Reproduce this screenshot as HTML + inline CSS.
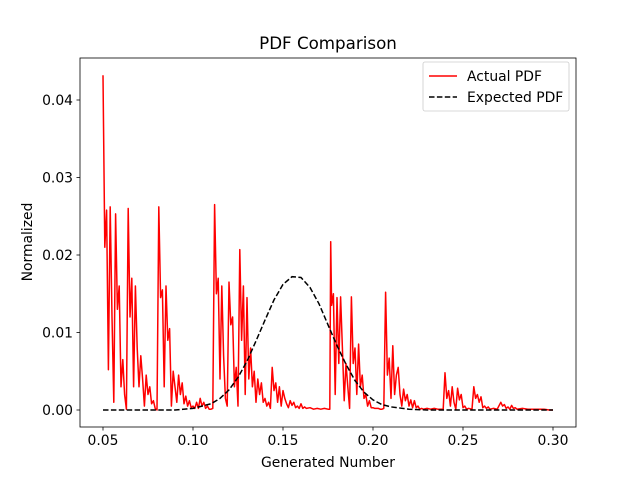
<!DOCTYPE html>
<html><head><meta charset="utf-8"><style>
html,body{margin:0;padding:0;background:#fff;}
svg{display:block;font-family:"DejaVu Sans","Liberation Sans",sans-serif;}
</style></head><body>
<svg id="chart" width="640" height="480" viewBox="0 0 640 480" xmlns="http://www.w3.org/2000/svg">
<rect width="640" height="480" fill="#fff"/>
<text x="328" y="49" font-size="16.7" text-anchor="middle">PDF Comparison</text>
<g id="plot"></g>
<rect x="80" y="58" width="496" height="369" fill="none" stroke="#000" stroke-width="0.8"/>
<g id="xt"></g><g id="yt"></g>
<text x="328" y="467" font-size="13.9" text-anchor="middle">Generated Number</text>
<text x="0" y="0" font-size="13.9" text-anchor="middle" transform="translate(32,242) rotate(-90)">Normalized</text>
<g>
<rect x="423" y="62" width="146" height="49" rx="2" fill="#fff" fill-opacity="0.8" stroke="#ccc" stroke-width="0.8"/>
<line x1="429" y1="76" x2="457" y2="76" stroke="#f00" stroke-width="1.5"/>
<text x="467" y="81" font-size="13.9">Actual PDF</text>
<line x1="429" y1="97" x2="457" y2="97" stroke="#000" stroke-width="1.5" stroke-dasharray="5.5,2.4"/>
<text x="467" y="102" font-size="13.9">Expected PDF</text>
</g>
</svg>
<script>
const xTicks=[0.05,0.10,0.15,0.20,0.25,0.30];
const xTickLabels=["0.05","0.10","0.15","0.20","0.25","0.30"];
const yTicks=[0,0.01,0.02,0.03,0.04];
const yTickLabels=["0.00","0.01","0.02","0.03","0.04"];
const actualX=[0.050,0.051,0.052,0.053,0.054,0.055,0.056,0.057,0.058,0.059,0.060,0.061,0.062,0.063,0.064,0.065,0.066,0.067,0.068,0.069,0.070,0.071,0.072,0.073,0.074,0.075,0.076,0.077,0.078,0.079,0.080,0.081,0.082,0.083,0.084,0.085,0.086,0.087,0.088,0.089,0.090,0.091,0.092,0.093,0.094,0.095,0.096,0.097,0.098,0.099,0.100,0.101,0.102,0.103,0.104,0.105,0.106,0.107,0.108,0.109,0.110,0.111,0.112,0.113,0.114,0.115,0.116,0.117,0.118,0.119,0.120,0.121,0.122,0.123,0.124,0.125,0.126,0.127,0.128,0.129,0.130,0.131,0.132,0.133,0.134,0.135,0.136,0.137,0.138,0.139,0.140,0.141,0.142,0.143,0.144,0.145,0.146,0.147,0.148,0.149,0.150,0.151,0.152,0.153,0.154,0.155,0.156,0.157,0.158,0.159,0.160,0.161,0.162,0.163,0.165,0.167,0.169,0.171,0.173,0.175,0.176,0.1765,0.177,0.178,0.179,0.180,0.181,0.182,0.183,0.184,0.185,0.186,0.187,0.188,0.189,0.190,0.191,0.192,0.193,0.194,0.195,0.196,0.197,0.198,0.199,0.200,0.201,0.202,0.203,0.204,0.205,0.206,0.207,0.208,0.209,0.210,0.211,0.212,0.213,0.214,0.215,0.216,0.217,0.218,0.219,0.220,0.221,0.222,0.223,0.224,0.225,0.226,0.227,0.228,0.230,0.232,0.234,0.236,0.238,0.239,0.240,0.241,0.242,0.243,0.244,0.245,0.246,0.247,0.248,0.249,0.250,0.251,0.252,0.253,0.255,0.256,0.257,0.258,0.259,0.260,0.261,0.262,0.263,0.264,0.265,0.267,0.269,0.271,0.272,0.273,0.274,0.275,0.276,0.277,0.278,0.279,0.280,0.283,0.286,0.289,0.292,0.295,0.298,0.300];
const actualY=[0.0432,0.021,0.0258,0.0052,0.0262,0.012,0.001,0.0253,0.013,0.016,0.003,0.0065,0.002,0.0001,0.026,0.012,0.017,0.003,0.016,0.008,0.003,0.007,0.004,0.0005,0.0045,0.002,0.003,0.0008,0.0012,0.0002,0.0,0.0262,0.0145,0.0155,0.003,0.016,0.009,0.0105,0.0005,0.005,0.003,0.001,0.0045,0.002,0.0035,0.0008,0.0018,0.0005,0.0012,0.0003,0.0005,0.0002,0.001,0.0002,0.0015,0.0005,0.001,0.0002,0.0005,0.0001,0.0001,0.0002,0.0265,0.015,0.017,0.004,0.016,0.007,0.0015,0.0005,0.0165,0.011,0.012,0.003,0.0055,0.0005,0.0207,0.009,0.016,0.002,0.0145,0.004,0.008,0.003,0.005,0.001,0.004,0.002,0.0035,0.001,0.0015,0.0005,0.001,0.0002,0.0055,0.0025,0.0035,0.001,0.003,0.0005,0.0025,0.0015,0.0008,0.0003,0.0012,0.0006,0.001,0.0003,0.0005,0.0002,0.0008,0.0002,0.0004,0.0002,0.0003,0.0001,0.0002,0.0001,0.0002,0.0001,0.0001,0.0217,0.0135,0.015,0.002,0.0145,0.006,0.0146,0.008,0.0012,0.006,0.003,0.0002,0.0146,0.006,0.008,0.002,0.0085,0.003,0.0045,0.0015,0.002,0.0005,0.0012,0.0003,0.0003,0.0002,0.0002,0.0002,0.0001,0.0001,0.0002,0.0152,0.0045,0.0067,0.0015,0.0083,0.002,0.0045,0.0055,0.002,0.0005,0.0027,0.0012,0.002,0.0005,0.0013,0.0003,0.0012,0.0003,0.0005,0.0001,0.0002,0.0001,0.0002,0.0001,0.0002,0.0001,0.0001,0.0001,0.0048,0.0015,0.0025,0.0005,0.003,0.001,0.0001,0.0028,0.0013,0.002,0.0003,0.0005,0.0001,0.0002,0.0001,0.003,0.0015,0.002,0.001,0.0017,0.0003,0.0005,0.0002,0.0004,0.0001,0.0002,0.0001,0.001,0.0005,0.0007,0.0002,0.0004,0.0001,0.0006,0.0002,0.0003,0.0001,0.0002,0.0001,0.0001,0.0001,0.0001,0.0,0.0];
const expectedX=[0.05,0.06,0.07,0.08,0.09,0.10,0.11,0.115,0.12,0.125,0.13,0.135,0.14,0.145,0.15,0.155,0.16,0.165,0.17,0.175,0.18,0.185,0.19,0.195,0.20,0.205,0.21,0.22,0.23,0.24,0.25,0.26,0.27,0.28,0.29,0.30];
const expectedY=[0,0,0,0,0,0.0002,0.0008,0.0015,0.0026,0.0042,0.0063,0.0089,0.0116,0.0142,0.0162,0.0172,0.0171,0.0158,0.0137,0.0110,0.0083,0.0059,0.0038,0.0023,0.0013,0.0007,0.0004,0.0001,0,0,0,0,0,0,0,0];
const NS="http://www.w3.org/2000/svg";
function sx(v){return 103+(v-0.05)*1800;}
function sy(v){return 410-v*7750;}
const plot=document.getElementById('plot');
function mk(t,a,p){const e=document.createElementNS(NS,t);for(const k in a)e.setAttribute(k,a[k]);p.appendChild(e);return e;}
const xt=document.getElementById('xt');
xTicks.forEach((v,i)=>{
 const l=mk('line',{x1:sx(v),x2:sx(v),y1:427,y2:430.5,stroke:'#000','stroke-width':0.8},xt);
 
 
 const t=mk('text',{x:sx(v),y:445,'font-size':13.9,'text-anchor':'middle'},xt);
 
 
 t.textContent=xTickLabels[i];
});
const yt=document.getElementById('yt');
yTicks.forEach((v,i)=>{
 const l=mk('line',{x1:76.5,x2:80,y1:sy(v),y2:sy(v),stroke:'#000','stroke-width':0.8},yt);
 
 
 const t=mk('text',{x:73,y:sy(v)+5,'font-size':13.9,'text-anchor':'end'},yt);
 
 
 t.textContent=yTickLabels[i];
});
const ap=mk('polyline',{points:actualX.map((x,i)=>sx(x).toFixed(1)+','+sy(actualY[i]).toFixed(1)).join(' '),fill:'none',stroke:'#f00','stroke-width':1.5,'stroke-linejoin':'round'},plot);


const ep=mk('polyline',{points:expectedX.map((x,i)=>sx(x).toFixed(1)+','+sy(expectedY[i]).toFixed(1)).join(' '),fill:'none',stroke:'#000','stroke-width':1.5,'stroke-dasharray':'5.5,2.4'},plot);


</script>
</body></html>
